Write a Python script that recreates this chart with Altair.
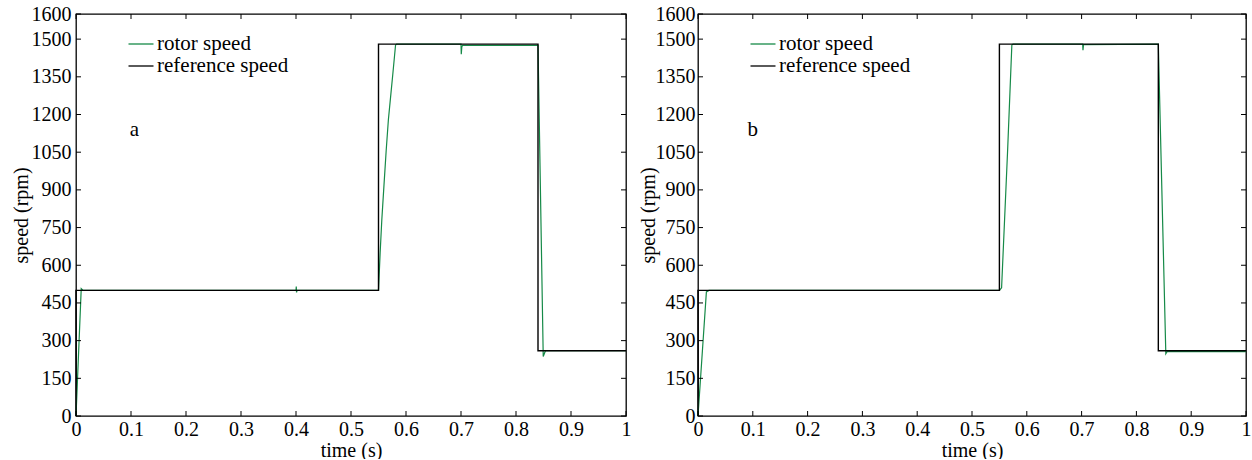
import altair as alt
import pandas as pd

FONT = "Liberation Serif"
GREEN = "#168a48"
H = 402

# x / y tick positions
x_ticks = [0, 0.1, 0.2, 0.3, 0.4, 0.5, 0.6, 0.7, 0.8, 0.9, 1]
y_ticks = [0, 150, 300, 450, 600, 750, 900, 1050, 1200, 1350, 1500, 1600]

# reference speed command (step profile)
ref_t = [0.0, 0.0, 0.55, 0.55, 0.84, 0.84, 1.0]
ref_v = [0, 500, 500, 1480, 1480, 260, 260]

# rotor speed, controller a
rot_a_t = [0.0, 0.0095, 0.013, 0.4, 0.4005, 0.401, 0.402, 0.55, 0.553, 0.556,
           0.56, 0.564, 0.568, 0.572, 0.576, 0.579, 0.581, 0.583, 0.7, 0.7005,
           0.7015, 0.703, 0.84, 0.8495, 0.8536, 1.0]
rot_a_v = [0, 507, 500, 500, 515, 492, 500, 500, 650, 780,
           920, 1058, 1180, 1270, 1360, 1430, 1476, 1480, 1480, 1440,
           1470, 1475, 1475, 237, 260, 260]

# rotor speed, controller b
rot_b_t = [0.0, 0.0153, 0.02, 0.55, 0.554, 0.565, 0.5727, 0.575, 0.702, 0.7025,
           0.7035, 0.84, 0.8537, 0.856, 1.0]
rot_b_v = [0, 494, 500, 500, 510, 1058, 1476, 1480, 1480, 1456,
           1478, 1480, 248, 256, 256]

SERIES = ["rotor speed", "reference speed"]

# short horizontal stroke used as the legend symbol
LEGEND_STROKE = "M-1.25,0H1.25"


def panel(rot_t, rot_v, tag, tag_t, tag_v, width, lab_pad, title_pad):
    rotor = pd.DataFrame({"t": rot_t, "speed": rot_v, "series": SERIES[0]})
    rotor["i"] = range(len(rotor))
    ref = pd.DataFrame({"t": ref_t, "speed": ref_v, "series": SERIES[1]})
    ref["i"] = range(len(ref))

    xs = alt.Scale(domain=[0, 1], nice=False, zero=False)
    ys = alt.Scale(domain=[0, 1600], nice=False)
    x_enc = alt.X("t:Q", scale=xs, axis=alt.Axis(
        values=x_ticks, format="~g", title="time (s)", ticks=False, tickSize=0,
        domain=False, grid=False, labelPadding=3, titlePadding=1,
        labelFlush=False, labelOverlap=False))
    y_enc = alt.Y("speed:Q", scale=ys, axis=alt.Axis(
        values=y_ticks, format="d", title="speed (rpm)", ticks=False, tickSize=0,
        domain=False, grid=False, labelPadding=lab_pad, titlePadding=title_pad,
        labelFlush=False, labelOverlap=False))
    color = alt.Color("series:N",
                      scale=alt.Scale(domain=SERIES, range=[GREEN, "black"]),
                      legend=alt.Legend(title=None, orient="none", legendX=54,
                                        legendY=19, symbolType=LEGEND_STROKE,
                                        symbolSize=400, symbolStrokeWidth=1.3,
                                        labelFont=FONT, labelFontSize=21,
                                        labelColor="black", labelOffset=5,
                                        rowPadding=1, padding=0))

    rotor_line = alt.Chart(rotor).mark_line(strokeWidth=1.2).encode(
        x=x_enc, y=y_enc, color=color, order="i:Q")
    ref_line = alt.Chart(ref).mark_line(strokeWidth=1.4).encode(
        x=x_enc, y=y_enc, color=color, order="i:Q")

    xt = pd.DataFrame({"t": x_ticks})
    yt = pd.DataFrame({"speed": y_ticks})
    tick = dict(color="black", strokeWidth=1)
    bottom = alt.Chart(xt).mark_rule(**tick).encode(
        x=x_enc, y=alt.value(H), y2=alt.value(H - 5))
    top = alt.Chart(xt).mark_rule(**tick).encode(
        x=x_enc, y=alt.value(0), y2=alt.value(5))
    left = alt.Chart(yt).mark_rule(**tick).encode(
        y=y_enc, x=alt.value(0), x2=alt.value(5))
    right = alt.Chart(yt).mark_rule(**tick).encode(
        y=y_enc, x=alt.value(width - 5), x2=alt.value(width))

    lab = pd.DataFrame({"t": [tag_t], "speed": [tag_v], "txt": [tag]})
    label = alt.Chart(lab).mark_text(font=FONT, fontSize=21, color="black").encode(
        x=x_enc, y=y_enc, text="txt:N")

    return alt.layer(rotor_line, ref_line, bottom, top, left, right, label).properties(
        width=width, height=H)


chart = alt.hconcat(
    panel(rot_a_t, rot_a_v, "a", 0.106, 1140, 550, 5, 0),
    panel(rot_b_t, rot_b_v, "b", 0.10, 1140, 548, 3, -3),
    spacing=5,
).resolve_scale(color="independent").properties(
    padding={"left": 10, "top": 3, "right": 0, "bottom": -2}
).configure_view(
    stroke="black", strokeWidth=1.3
).configure_axis(
    labelFont=FONT, labelFontSize=20, labelColor="black",
    titleFont=FONT, titleFontSize=20, titleFontWeight="normal", titleColor="black"
)

chart.save("out.html", embed_options={"renderer": "svg", "actions": False})
